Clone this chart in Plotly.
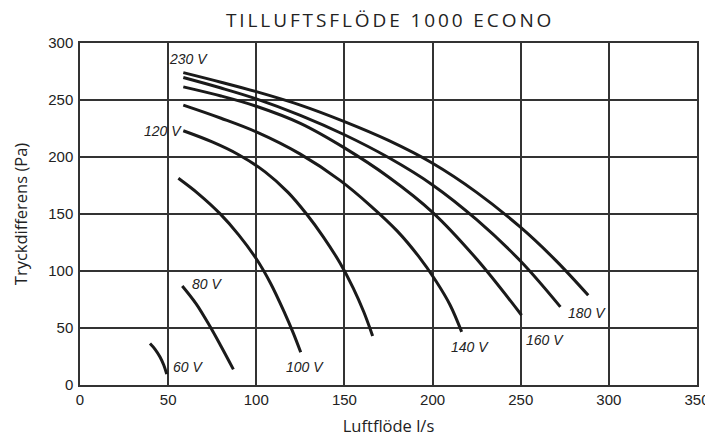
import plotly.graph_objects as go

# Fan curves: airflow (l/s) vs pressure difference (Pa)
x_60 = [39.7, 42.5, 45.4, 47.5, 49.2]
y_60 = [36.4, 31.5, 24.5, 17.5, 9.6]

x_80 = [58.0, 66.0, 73.7, 80.0, 87.0]
y_80 = [86.9, 71.0, 51.5, 34.0, 13.7]

x_100 = [55.8, 67.0, 79.4, 90.0, 100.0, 108.0, 116.0, 121.0, 125.2]
y_100 = [181.3, 167.9, 150.3, 131.7, 110.7, 89.5, 63.5, 45.5, 28.7]

x_120 = [58.6, 75.0, 90.0, 105.0, 118.0, 128.5, 138.0, 147.5, 155.0, 161.0, 166.0]
y_120 = [223.0, 213.2, 202.0, 187.0, 169.0, 150.0, 130.0, 107.0, 85.0, 64.0, 43.0]

x_140 = [58.6, 80.0, 100.0, 125.0, 147.5, 165.0, 180.0, 192.0, 202.0, 210.0, 216.5]
y_140 = [245.5, 234.0, 222.0, 202.5, 179.5, 157.0, 135.0, 113.0, 91.0, 70.0, 46.6]

x_160 = [58.6, 80.0, 100.0, 125.0, 150.0, 175.0, 200.0, 225.0, 250.5]
y_160 = [261.5, 253.5, 244.5, 229.5, 208.0, 182.5, 151.5, 110.5, 61.2]

x_180 = [58.6, 80.0, 100.0, 125.0, 150.0, 175.0, 200.0, 225.0, 250.0, 272.5]
y_180 = [269.7, 260.5, 251.0, 236.5, 219.5, 199.5, 175.5, 145.0, 108.5, 68.5]

x_230 = [58.6, 80.0, 100.0, 125.0, 150.0, 175.0, 200.0, 225.0, 250.0, 270.0, 288.3]
y_230 = [274.0, 265.6, 257.3, 245.5, 231.0, 214.5, 194.5, 169.0, 138.2, 109.1, 78.7]

series = [
    (x_60, y_60), (x_80, y_80), (x_100, y_100), (x_120, y_120),
    (x_140, y_140), (x_160, y_160), (x_180, y_180), (x_230, y_230),
]

label_text = ["230 V", "120 V", "80 V", "60 V", "100 V", "140 V", "160 V", "180 V"]
label_x = [61.8, 47.1, 71.9, 61.0, 127.9, 221.2, 263.8, 287.4]
label_y = [286.0, 223.0, 89.0, 15.5, 15.5, 33.0, 39.4, 63.2]

x_ticks = [0, 50, 100, 150, 200, 250, 300, 350]
y_ticks = [0, 50, 100, 150, 200, 250, 300]

tickfam = "Liberation Sans, Arial, sans-serif"
human = "Open Sans, Noto Sans, sans-serif"

fig = go.Figure()
for xs, ys in series:
    fig.add_trace(go.Scatter(
        x=xs, y=ys, mode="lines",
        line=dict(color="#1a1a1a", width=3, shape="spline", smoothing=1.0),
        hoverinfo="skip", showlegend=False,
    ))

for t, lx, ly in zip(label_text, label_x, label_y):
    fig.add_annotation(
        x=lx, y=ly, text=t, showarrow=False, xref="x", yref="y",
        font=dict(family=tickfam, size=14, color="#222", style="italic"),
    )

axis_common = dict(
    showgrid=True, gridcolor="#333", gridwidth=1.5,
    showline=True, linecolor="#333", linewidth=1.5, mirror=True,
    zeroline=False, ticks="", automargin=False,
    tickfont=dict(family=tickfam, size=15, color="#222"),
)

# page has an 8px body margin, so the figure is 705x436 with the plot area
# landing at the same place as in the reference
fig.update_layout(
    width=705, height=436,
    margin=dict(l=72, r=16, t=35, b=59),
    paper_bgcolor="white", plot_bgcolor="white",
    title=dict(text='<span style="letter-spacing:2.9px">TILLUFTSFLÖDE 1000 ECONO</span>',
               x=0.542, xanchor="center", y=0.9725, yanchor="middle",
               font=dict(family=human, size=19, color="#222")),
    xaxis=dict(range=[0, 350], tickvals=x_ticks, ticklabelstandoff=0,
               title=dict(text="Luftflöde l/s", standoff=14,
                          font=dict(family=human, size=16.5, color="#222")),
               **axis_common),
    yaxis=dict(range=[0, 300], tickvals=y_ticks, ticklabelstandoff=2,
               title=dict(text="Tryckdifferens (Pa)", standoff=16,
                          font=dict(family=human, size=16.5, color="#222")),
               **axis_common),
)

fig.write_html("out.html")
